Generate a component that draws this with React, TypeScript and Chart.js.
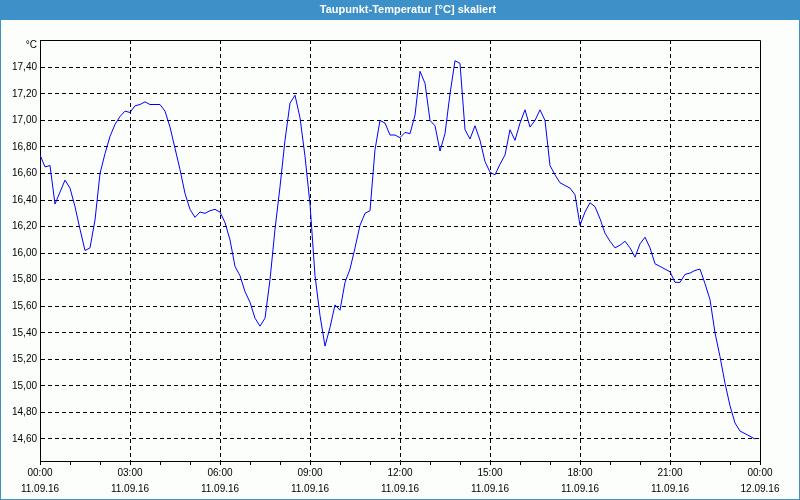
import React, { useEffect, useRef } from "react";
import { Chart, registerables } from "chart.js";

Chart.register(...registerables);

const chartTitle = "Taupunkt-Temperatur [°C] skaliert";
const unitLabel = "°C";

// sampling interval of the series, minutes
const sampleMinutes = 10;

// dew point temperature, 11.09.16 00:00 .. 23:50, one value every 10 minutes
const dewPoint: number[] = [
  16.74, 16.65, 16.66, 16.37, 16.46, 16.55, 16.49, 16.35, 16.18, 16.02, 16.04, 16.25, 16.6, 16.75, 16.88, 16.97, 17.03, 17.07,
  17.06, 17.11, 17.12, 17.14, 17.12, 17.12, 17.12, 17.07, 16.95, 16.79, 16.63, 16.45, 16.33, 16.27, 16.31, 16.3, 16.32, 16.33,
  16.31, 16.23, 16.1, 15.9, 15.83, 15.71, 15.63, 15.51, 15.45, 15.51, 15.8, 16.18, 16.5, 16.85, 17.13, 17.19, 17.02, 16.73,
  16.37, 15.83, 15.53, 15.3, 15.44, 15.61, 15.57, 15.78, 15.88, 16.04, 16.21, 16.3, 16.32, 16.78, 17.0, 16.98, 16.89, 16.89,
  16.87, 16.91, 16.9, 17.04, 17.37, 17.28, 17.0, 16.96, 16.77, 16.9, 17.2, 17.45, 17.43, 16.93, 16.86, 16.96, 16.85, 16.69,
  16.61, 16.59, 16.67, 16.74, 16.93, 16.85, 16.98, 17.08, 16.95, 17.0, 17.08, 17.0, 16.66, 16.59, 16.53, 16.51, 16.49, 16.44,
  16.21, 16.31, 16.38, 16.35, 16.26, 16.15, 16.09, 16.04, 16.06, 16.09, 16.04, 15.97, 16.07, 16.12, 16.04, 15.92, 15.9, 15.88,
  15.86, 15.78, 15.78, 15.84, 15.85, 15.87, 15.88, 15.77, 15.65, 15.4, 15.22, 15.02, 14.85, 14.72, 14.66, 14.64, 14.62, 14.6,
];

// x axis: major labels every 3 hours, minor tick marks every hour
const xMin = 0;
const xMax = 1440;
const majorStepMinutes = 180;
const minorStepMinutes = 60;
const xTimeLabels = ["00:00", "03:00", "06:00", "09:00", "12:00", "15:00", "18:00", "21:00", "00:00"];
const xDateLabels = ["11.09.16", "11.09.16", "11.09.16", "11.09.16", "11.09.16", "11.09.16", "11.09.16", "11.09.16", "12.09.16"];

// y axis
const yMin = 14.434;
const yMax = 17.606;
const yTickValues = [14.6, 14.8, 15.0, 15.2, 15.4, 15.6, 15.8, 16.0, 16.2, 16.4, 16.6, 16.8, 17.0, 17.2, 17.4];

const FRAME_BLUE = "#3d90c8";
const BG = "#fcfefc";
const FONT = '"Liberation Sans", Arial, sans-serif';

export default function App() {
  const canvasRef = useRef<HTMLCanvasElement | null>(null);

  useEffect(() => {
    const canvas = canvasRef.current;
    if (!canvas) return;

    const framePlugin = {
      id: "frame",
      beforeDraw(chart: any) {
        const { ctx, width, height } = chart;
        ctx.save();
        ctx.fillStyle = BG;
        ctx.fillRect(0, 0, width, height);
        ctx.fillStyle = FRAME_BLUE;
        ctx.fillRect(0, 0, width, 20);
        ctx.fillRect(0, 0, 1, height);
        ctx.fillRect(width - 1, 0, 1, height);
        ctx.fillRect(0, height - 1, width, 1);
        ctx.fillStyle = "#ffffff";
        ctx.font = "bold 11px " + FONT;
        ctx.textAlign = "center";
        ctx.textBaseline = "middle";
        ctx.fillText(chartTitle, 408, 10);
        ctx.restore();
      },
      afterDraw(chart: any) {
        const { ctx, chartArea } = chart;
        ctx.save();
        ctx.strokeStyle = "#000";
        ctx.lineWidth = 1;
        ctx.beginPath();
        const l = Math.round(chartArea.left) + 0.5;
        const r = Math.round(chartArea.right) + 0.5;
        const t = Math.round(chartArea.top) + 0.5;
        ctx.moveTo(l, t);
        ctx.lineTo(r, t);
        ctx.lineTo(r, Math.round(chartArea.bottom) + 0.5);
        ctx.stroke();
        ctx.fillStyle = "#000";
        ctx.font = "10px " + FONT;
        ctx.textAlign = "right";
        ctx.textBaseline = "middle";
        ctx.fillText(unitLabel, chartArea.left - 3, chartArea.top + 5);
        ctx.restore();
      },
    };

    const chart = new Chart(canvas, {
      type: "line",
      data: {
        datasets: [
          {
            data: dewPoint.map((v, i) => ({ x: i * sampleMinutes, y: v })),
            borderColor: "#0000ff",
            borderWidth: 1,
            pointRadius: 0,
            tension: 0,
            fill: false,
          },
        ],
      },
      options: {
        responsive: false,
        animation: false,
        layout: { padding: { top: 40, right: 40, left: 0, bottom: 0 } },
        plugins: {
          legend: { display: false },
          title: { display: false },
          tooltip: { enabled: false },
        },
        scales: {
          x: {
            type: "linear",
            min: xMin,
            max: xMax,
            afterBuildTicks(scale: any) {
              const ticks = [];
              for (let v = xMin; v <= xMax; v += minorStepMinutes) ticks.push({ value: v });
              scale.ticks = ticks;
            },
            afterFit(scale: any) {
              scale.height = 39;
            },
            grid: {
              color: (ctx: any) => {
                const v = ctx.tick ? ctx.tick.value : 0;
                return v % majorStepMinutes === 0 && v !== xMin && v !== xMax ? "#000" : "rgba(0,0,0,0)";
              },
              tickColor: "#000",
              tickLength: 4,
              lineWidth: 1,
            },
            border: { display: true, color: "#000", width: 1, dash: [4, 3] },
            ticks: {
              autoSkip: false,
              maxRotation: 0,
              padding: 0,
              color: "#000",
              font: { family: FONT, size: 10, lineHeight: "16px" },
              callback: (value: any) => {
                const v = Number(value);
                if (v % majorStepMinutes !== 0) return "";
                const i = v / majorStepMinutes;
                return [xTimeLabels[i], xDateLabels[i]];
              },
            },
          },
          y: {
            type: "linear",
            min: yMin,
            max: yMax,
            afterBuildTicks(scale: any) {
              scale.ticks = yTickValues.map((v) => ({ value: v }));
            },
            afterFit(scale: any) {
              scale.width = 40;
            },
            grid: {
              color: "#000",
              lineWidth: 1,
              drawTicks: false,
            },
            border: { display: true, color: "#000", width: 1, dash: [4, 3] },
            ticks: {
              padding: 3,
              color: "#000",
              font: { family: FONT, size: 10 },
              callback: (value: any) => Number(value).toFixed(2).replace(".", ","),
            },
          },
        },
      },
      plugins: [framePlugin],
    });

    return () => chart.destroy();
  }, []);

  return (
    <div style={{ position: "absolute", left: 0, top: 0, width: 800, height: 500 }}>
      <canvas ref={canvasRef} width={800} height={500} style={{ display: "block" }} />
    </div>
  );
}
